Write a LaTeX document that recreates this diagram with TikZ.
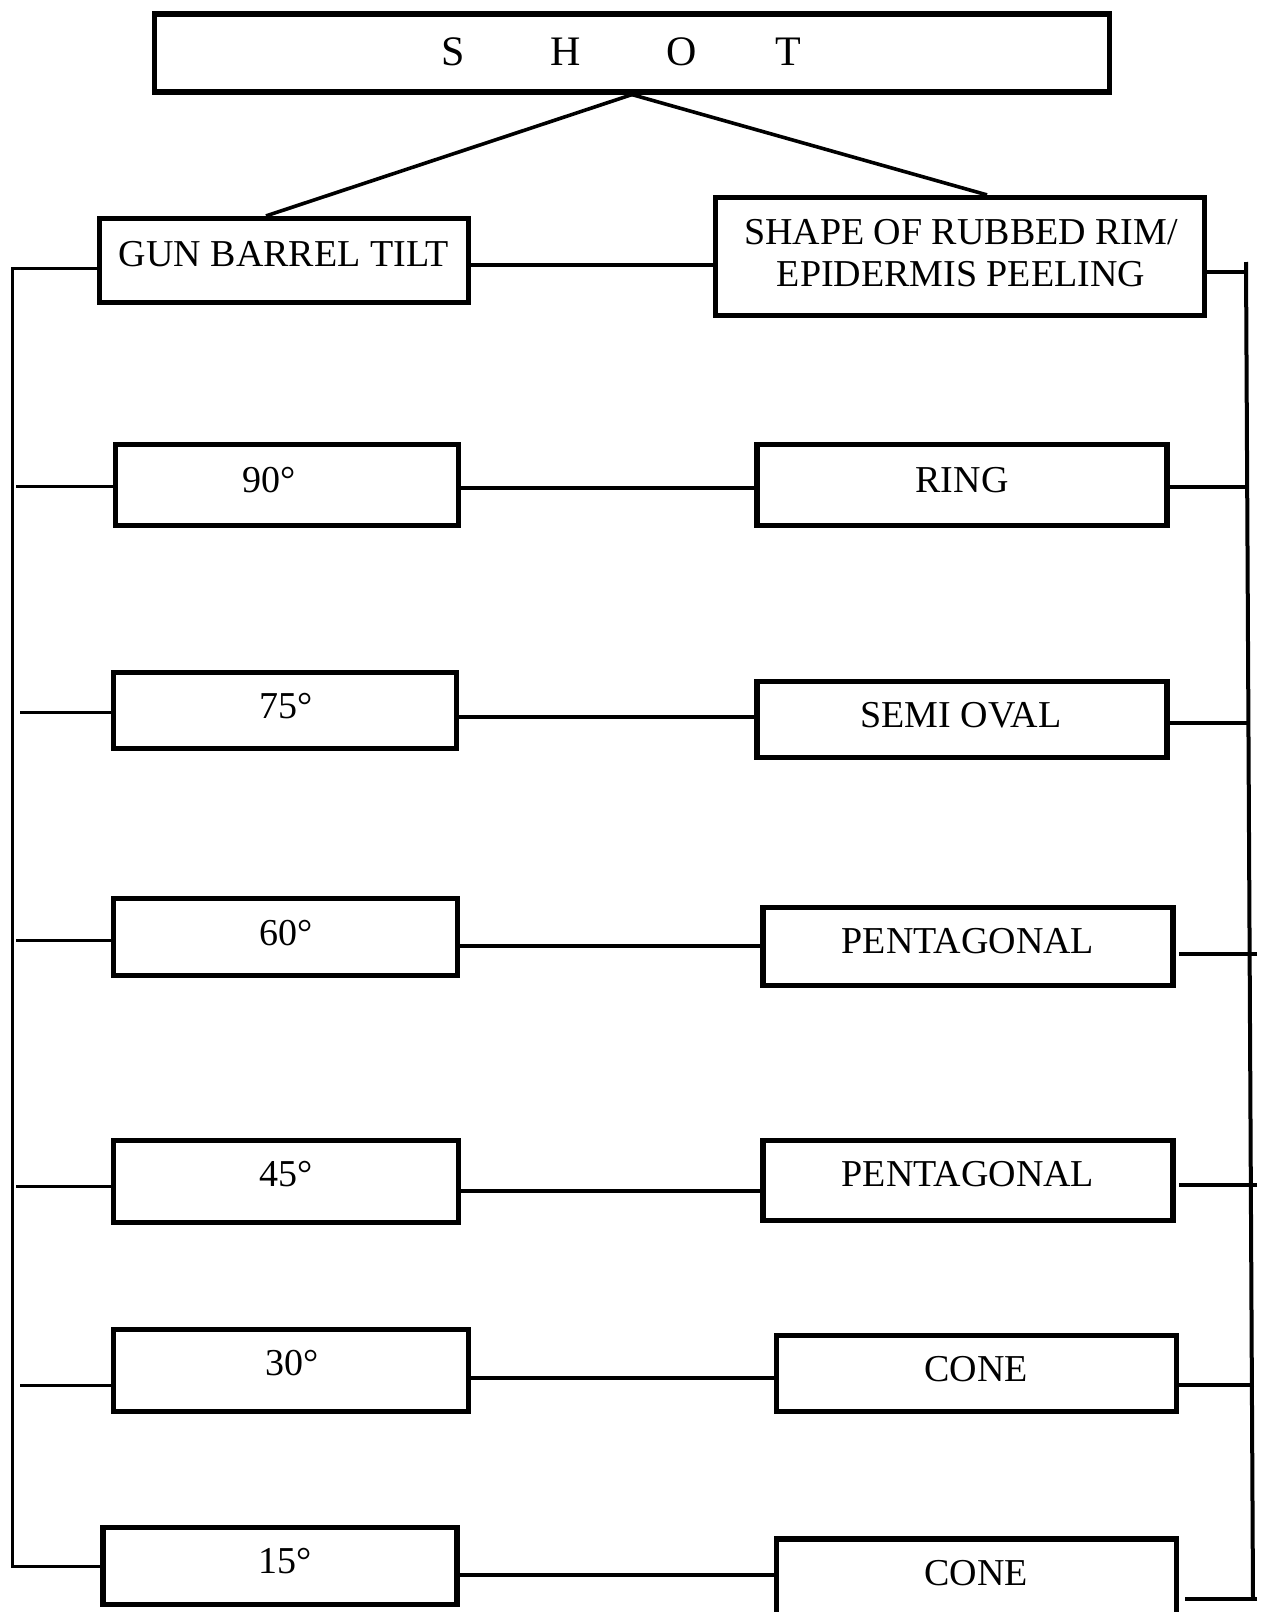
\documentclass[tikz,border=0pt]{standalone}
\usepackage{fontspec}
\setmainfont{Liberation Serif}
\begin{document}
\begin{tikzpicture}[x=0.5pt,y=-0.5pt,
  box/.style n args={2}{draw, line width=2.6pt, inner sep=0pt, minimum width=#1, minimum height=#2},
  txt/.style={inner sep=0pt, font=\fontsize{19}{21}\selectfont, text height=12.5pt, text depth=0pt},
  conn/.style={line width=1.6pt},
  lconn/.style={line width=1.5pt},
  rconn/.style={line width=2pt},
  tconn/.style={line width=1.8pt}]
\path[use as bounding box] (0,0) rectangle (1264,1612);
\clip (0,0) rectangle (1264,1612);
\fill[white] (0,0) rectangle (1264,1612);

% boxes
\node[box={477.5pt}{39pt}] (SHOT) at (632,53) {};
\node[box={184.5pt}{42pt}] (GUN) at (284,260.5) {};
\node[box={244.75pt}{59pt}] (SHAPE) at (960,256.5) {};
\node[box={171.5pt}{40.5pt}] (b90) at (287,485) {};
\node[box={205pt}{40.5pt}] (RING) at (962,485) {};
\node[box={171.5pt}{38pt}] (b75) at (285,710.5) {};
\node[box={205pt}{38pt}] (SEMI) at (962,719.5) {};
\node[box={172pt}{38.5pt}] (b60) at (285.5,937) {};
\node[box={205pt}{39pt}] (PENTa) at (968,946.5) {};
\node[box={172.5pt}{41pt}] (b45) at (286,1181.5) {};
\node[box={205pt}{40pt}] (PENTb) at (968,1180.5) {};
\node[box={177.5pt}{41pt}] (b30) at (291,1370.5) {};
\node[box={200pt}{38pt}] (CONEa) at (976.5,1373.5) {};
\node[box={177pt}{38.5pt}] (b15) at (280,1566) {};
\node[box={200pt}{38pt}] (CONEb) at (976.5,1577) {};

% texts
\node[txt, font=\fontsize{21}{24}\selectfont, text height=13.9pt] (tSHOT) at (621,52) {S\hspace{43.1pt}H\hspace{42.8pt}O\hspace{39pt}T};
\node[txt] (tGUN) at (284,254) {GUN BARREL TILT};
\node[inner sep=0pt, font=\fontsize{19}{21}\selectfont, align=center] (tSHAPE) at (961,253) {SHAPE OF RUBBED RIM/\\EPIDERMIS PEELING};
\node[txt] (t90) at (269,480) {90°};
\node[txt] (tRING) at (962,480) {RING};
\node[txt] (t75) at (286,706) {75°};
\node[txt] (tSEMI) at (961,715) {SEMI OVAL};
\node[txt] (t60) at (286,933) {60°};
\node[txt] (tPENTa) at (968,941) {PENTAGONAL};
\node[txt] (t45) at (286,1174) {45°};
\node[txt] (tPENTb) at (968,1174) {PENTAGONAL};
\node[txt] (t30) at (292,1363) {30°};
\node[txt] (tCONEa) at (976,1369) {CONE};
\node[txt] (t15) at (285,1561) {15°};
\node[txt] (tCONEb) at (976,1573) {CONE};

% top connectors
\draw[tconn] (SHOT.south) -- (GUN.north -| 266,0);
\draw[tconn] (SHOT.south) -- (SHAPE.north -| 987,0);

% middle connectors
\draw[conn] (GUN.east |- 0,265) -- (SHAPE.west |- 0,265);
\draw[conn] (b90.east |- 0,488) -- (RING.west |- 0,488);
\draw[conn] (b75.east |- 0,717) -- (SEMI.west |- 0,717);
\draw[conn] (b60.east |- 0,946) -- (PENTa.west |- 0,946);
\draw[conn] (b45.east |- 0,1191) -- (PENTb.west |- 0,1191);
\draw[conn] (b30.east |- 0,1378) -- (CONEa.west |- 0,1378);
\draw[conn] (b15.east |- 0,1575) -- (CONEb.west |- 0,1575);

% left side
\coordinate (L0) at (12,268);
\coordinate (L1) at (16,486);
\coordinate (L2) at (20,712);
\coordinate (L3) at (16,940);
\coordinate (L4) at (16,1186);
\coordinate (L5) at (20,1385);
\coordinate (L6) at (12,1566);
\draw[lconn] (GUN.west |- L0) -- (L0) -- (L6) -- (b15.west |- L6);
\draw[lconn] (L1) -- (b90.west |- L1);
\draw[lconn] (L2) -- (b75.west |- L2);
\draw[lconn] (L3) -- (b60.west |- L3);
\draw[lconn] (L4) -- (b45.west |- L4);
\draw[lconn] (L5) -- (b30.west |- L5);

% right side
\coordinate (Rtop) at (1246,262);
\coordinate (Rbot) at (1253,1599);
\coordinate (R0) at (1246,272);
\coordinate (R1) at (1247,487);
\coordinate (R2) at (1249,723);
\coordinate (R3) at (1257,954);
\coordinate (R4) at (1257,1185);
\coordinate (R5) at (1254,1385);
\coordinate (R6) at (1257,1599);
\draw[rconn] (Rtop) -- (Rbot);
\draw[rconn] (R0) -- (SHAPE.east |- R0);
\draw[rconn] (R1) -- (RING.east |- R1);
\draw[rconn] (R2) -- (SEMI.east |- R2);
\draw[rconn, shorten >=1.5pt] (R3) -- (PENTa.east |- R3);
\draw[rconn, shorten >=1.5pt] (R4) -- (PENTb.east |- R4);
\draw[rconn] (R5) -- (CONEa.east |- R5);
\draw[rconn, shorten >=3pt] (R6) -- (CONEb.east |- R6);
\end{tikzpicture}
\end{document}
